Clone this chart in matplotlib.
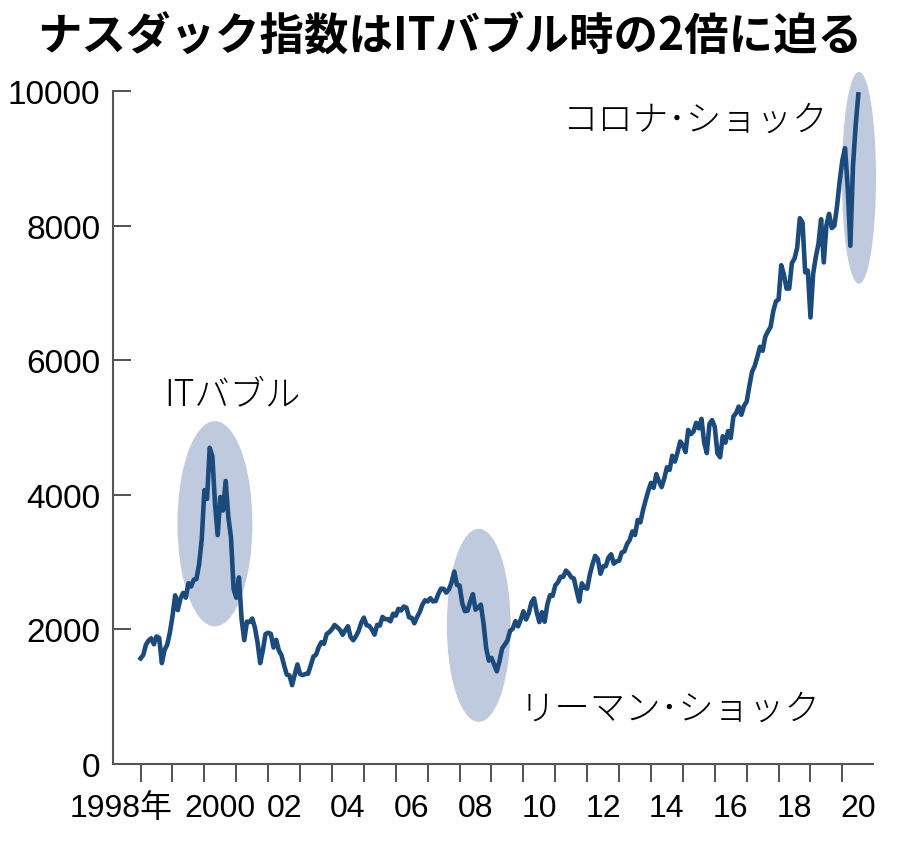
import numpy as np
import matplotlib
matplotlib.use('Agg')
import matplotlib.pyplot as plt
from matplotlib.patches import Ellipse

# monthly close of NASDAQ composite, Dec 1997 .. Jun 2020
nasdaq = [
    1570,
    1619, 1771, 1835, 1868, 1779, 1895, 1873, 1499, 1694, 1771, 1950, 2193,  # 1998
    2506, 2288, 2461, 2542, 2471, 2686, 2638, 2739, 2746, 2966, 3336, 4069,  # 1999
    3940, 4697, 4573, 3861, 3401, 3966, 3767, 4206, 3673, 3370, 2598, 2471,  # 2000
    2773, 2152, 1840, 2116, 2110, 2161, 2027, 1805, 1499, 1690, 1931, 1950,  # 2001
    1934, 1731, 1845, 1688, 1616, 1463, 1328, 1315, 1172, 1330, 1479, 1336,  # 2002
    1321, 1338, 1341, 1464, 1596, 1623, 1735, 1810, 1787, 1932, 1960, 2003,  # 2003
    2066, 2030, 1994, 1920, 1987, 2048, 1887, 1838, 1897, 1975, 2097, 2175,  # 2004
    2062, 2052, 1999, 1922, 2068, 2057, 2185, 2152, 2152, 2120, 2233, 2205,  # 2005
    2306, 2281, 2340, 2323, 2179, 2172, 2091, 2184, 2258, 2367, 2432, 2415,  # 2006
    2464, 2416, 2422, 2525, 2605, 2603, 2546, 2596, 2701, 2859, 2661, 2652,  # 2007
    2389, 2271, 2279, 2413, 2523, 2293, 2326, 2368, 2092, 1721, 1536, 1577,  # 2008
    1476, 1377, 1528, 1717, 1774, 1835, 1979, 2009, 2122, 2045, 2145, 2269,  # 2009
    2147, 2238, 2398, 2461, 2257, 2109, 2255, 2114, 2369, 2507, 2498, 2653,  # 2010
    2700, 2782, 2781, 2874, 2835, 2774, 2756, 2579, 2415, 2684, 2620, 2605,  # 2011
    2814, 2967, 3092, 3046, 2827, 2935, 2940, 3067, 3116, 2977, 3010, 3020,  # 2012
    3142, 3160, 3268, 3329, 3456, 3403, 3626, 3590, 3771, 3920, 4060, 4177,  # 2013
    4104, 4308, 4199, 4115, 4243, 4408, 4370, 4580, 4493, 4631, 4792, 4736,  # 2014
    4635, 4964, 4901, 4941, 5070, 4987, 5128, 4777, 4620, 5054, 5109, 5007,  # 2015
    4614, 4558, 4870, 4775, 4948, 4843, 5162, 5213, 5312, 5189, 5324, 5383,  # 2016
    5615, 5825, 5912, 6048, 6199, 6140, 6348, 6429, 6496, 6728, 6874, 6903,  # 2017
    7411, 7273, 7063, 7066, 7442, 7510, 7672, 8110, 8046, 7306, 7331, 6635,  # 2018
    7282, 7533, 7729, 8095, 7453, 8006, 8175, 7963, 7999, 8292, 8665, 8973,  # 2019
    9151, 8567, 7700, 8890, 9490, 9950,                                      # 2020
]
start_year = 1998

year_ticks = list(range(1998, 2021))
label_years = list(range(2000, 2021, 2))
year_labels = ['2000'] + ['%02d' % (y % 100) for y in label_years[1:]]
y_ticks = [0, 2000, 4000, 6000, 8000, 10000]

# highlighted periods: (centre year, centre value, width years, height value)
events = [(2000.33, 3570, 2.35, 3050),
          (2008.60, 2060, 2.00, 2870),
          (2020.52, 8710, 1.07, 3150)]

num_font = ['Liberation Sans', 'Noto Sans CJK JP', 'DejaVu Sans']
jp_font = ['Noto Sans CJK JP', 'DejaVu Sans']
line_col = '#1b4a7c'
shade_col = '#c0cadf'
axis_col = '#555555'

x = start_year + np.arange(len(nasdaq)) / 12.0

fig = plt.figure(figsize=(9, 8.45), dpi=100)
ax = fig.add_axes([113 / 900, 80 / 845, 760 / 900, 673 / 845])

for cx, cy, w, h in events:
    ax.add_patch(Ellipse((cx, cy), w, h, facecolor=shade_col,
                         edgecolor='none', clip_on=False, zorder=1))

ax.plot(x, nasdaq, color=line_col, lw=3.3, solid_joinstyle='round', zorder=3)

ax.set_xlim(1997.135, 2020.96)
ax.set_ylim(0, 10000)

for s in ['top', 'right']:
    ax.spines[s].set_visible(False)
for s in ['left', 'bottom']:
    ax.spines[s].set_color(axis_col)
    ax.spines[s].set_linewidth(1.5)

ax.set_yticks(y_ticks)
ax.set_yticklabels([str(v) for v in y_ticks], family=num_font, fontsize=24)
ax.tick_params(axis='y', direction='in', length=13, width=1.2,
               color='#333333', pad=9)

ax.set_xticks(year_ticks)
ax.set_xticklabels([])
ax.tick_params(axis='x', which='major', direction='out', length=13,
               width=1.2, color='#333333')
ax.set_xticks([1998.99] + [y + 0.5 for y in label_years], minor=True)
ax.set_xticklabels(['1998年'] + year_labels, minor=True, family=num_font,
                   fontsize=23)
ax.tick_params(axis='x', which='minor', length=0, pad=21)
ax.get_xticklabels(minor=True)[0].set_horizontalalignment('right')

ax.text(2000.89, 5500, 'ITバブル', family=jp_font, fontsize=25.5,
        fontweight='light', ha='center', va='center')
ax.text(2009.87, 820, 'リーマン･ショック', family=jp_font, fontsize=25.5,
        fontweight='light', ha='left', va='center')
ax.text(2019.52, 9570, 'コロナ･ショック', family=jp_font, fontsize=25.5,
        fontweight='light', ha='right', va='center')

fig.text(0.5, 1 - 38 / 845, 'ナスダック指数はITバブル時の2倍に迫る',
         family=jp_font, fontsize=32, fontweight='bold', ha='center',
         va='center')

fig.savefig('out.png', dpi=100, facecolor='white')
